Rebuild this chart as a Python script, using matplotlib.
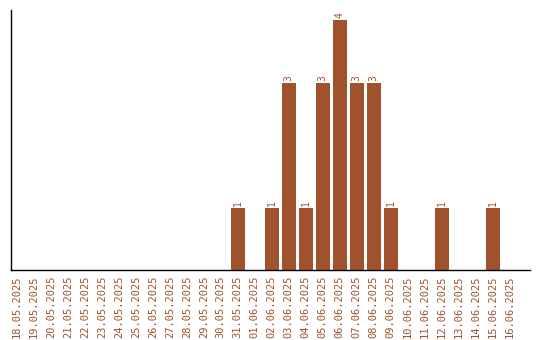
import matplotlib
matplotlib.use("Agg")
import matplotlib.pyplot as plt

dates = ["18.05.2025", "19.05.2025", "20.05.2025", "21.05.2025", "22.05.2025",
         "23.05.2025", "24.05.2025", "25.05.2025", "26.05.2025", "27.05.2025",
         "28.05.2025", "29.05.2025", "30.05.2025", "31.05.2025", "01.06.2025",
         "02.06.2025", "03.06.2025", "04.06.2025", "05.06.2025", "06.06.2025",
         "07.06.2025", "08.06.2025", "09.06.2025", "10.06.2025", "11.06.2025",
         "12.06.2025", "13.06.2025", "14.06.2025", "15.06.2025", "16.06.2025"]
counts = [0, 0, 0, 0, 0, 0, 0, 0, 0, 0, 0, 0, 0, 1, 0,
          1, 3, 1, 3, 4, 3, 3, 1, 0, 0, 1, 0, 0, 1, 0]

color = "#a0522d"
plt.rcParams['font.family'] = ['DejaVu Sans Mono']

fig = plt.figure(figsize=(5.4, 3.4), dpi=100)
ax = fig.add_axes([11/540, 70/340, 519/540, 260/340])
x = list(range(len(dates)))
ax.bar(x, counts, width=0.82, color=color)
for xi, c in zip(x, counts):
    if c > 0:
        ax.text(xi, c + 0.03, str(c), rotation=90, ha='center', va='bottom',
                color=color, fontsize=7)
ax.set_xlim(-0.35, 30.2)
ax.set_ylim(0, 4.16)
ax.set_xticks(x)
ax.set_xticklabels(dates, rotation=90, color=color, fontsize=7.5)
ax.tick_params(axis='x', length=0, pad=4)
ax.set_yticks([])
ax.spines['top'].set_visible(False)
ax.spines['right'].set_visible(False)
ax.spines['left'].set_linewidth(1)
ax.spines['bottom'].set_linewidth(1)
fig.savefig("out.png", dpi=100)
